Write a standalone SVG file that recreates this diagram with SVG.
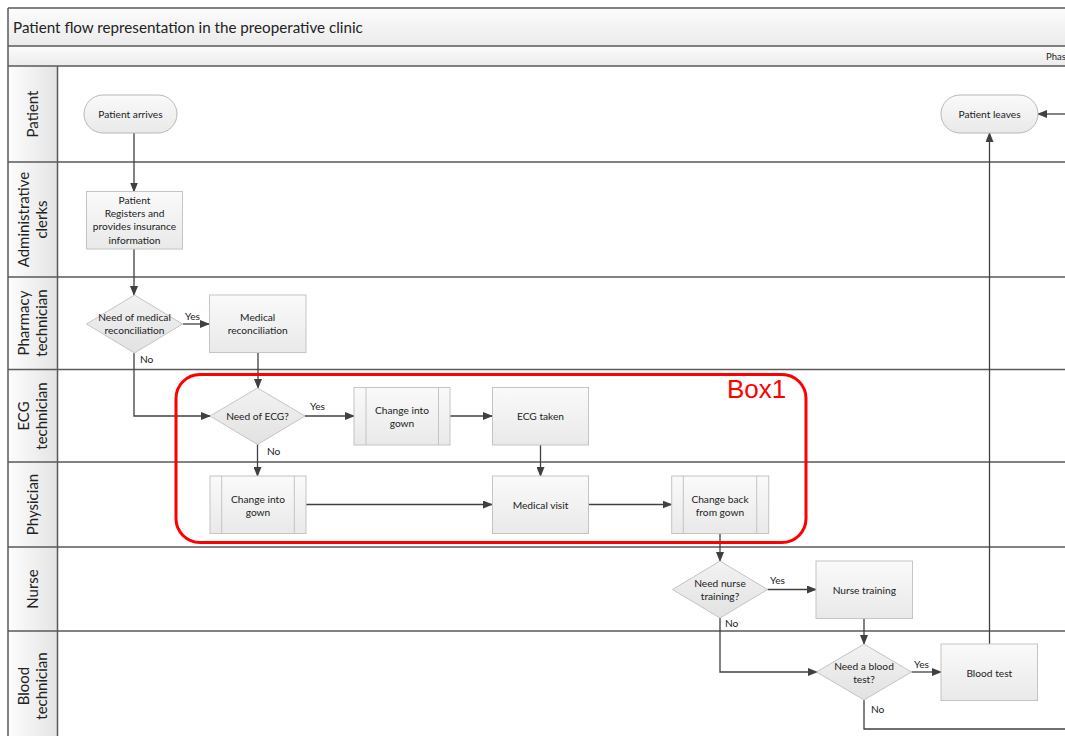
<svg xmlns="http://www.w3.org/2000/svg" width="1065" height="736" viewBox="0 0 1065 736">
<style>
text{font-family:Lato,"Liberation Sans",sans-serif;fill:#222}
.t{font-size:10.2px;text-anchor:middle}
.lbl{font-size:10.2px}
.lane{font-size:15px;text-anchor:middle}
.box{fill:url(#gBox);stroke:#c4c4c4;stroke-width:1}
.dia{fill:url(#gDia);stroke:#c4c4c4;stroke-width:1}
.pill{fill:url(#gBox);stroke:#b8b8b8;stroke-width:1}
.inner{stroke:#c4c4c4;stroke-width:1}
.sep{stroke:#5a5a5a;stroke-width:1.5;fill:none}
.con{stroke:#404040;stroke-width:1.3;fill:none}
.arr{marker-end:url(#ah)}
</style>
<defs>
<linearGradient id="gBox" x1="0" y1="0" x2="0" y2="1"><stop offset="0" stop-color="#fafafa"/><stop offset="1" stop-color="#e9e9e9"/></linearGradient>
<linearGradient id="gDia" x1="0" y1="0" x2="0" y2="1"><stop offset="0" stop-color="#f2f2f2"/><stop offset="1" stop-color="#e2e2e2"/></linearGradient>
<linearGradient id="gBar" x1="0" y1="0" x2="0" y2="1"><stop offset="0" stop-color="#fcfcfc"/><stop offset="1" stop-color="#ebebeb"/></linearGradient>
<linearGradient id="gHead" x1="0" y1="0" x2="1" y2="0"><stop offset="0" stop-color="#fdfdfd"/><stop offset="1" stop-color="#e4e4e4"/></linearGradient>
<marker id="ah" markerUnits="userSpaceOnUse" markerWidth="10" markerHeight="8" refX="9" refY="4" orient="auto"><path d="M0,0 L10,4 L0,8 z" fill="#404040"/></marker>
</defs>

<g id="frame">
<rect x="0" y="0" width="1065" height="736" fill="#ffffff"/>
<rect x="8" y="8" width="1060" height="38" fill="url(#gBar)"/>
<rect x="8" y="46" width="1060" height="20" fill="url(#gBar)"/>
<rect x="8" y="66" width="49.5" height="680" fill="url(#gHead)"/>
<path class="sep" d="M8,8 H1065 M8,8 V736 M8,46 H1065 M8,66 H1065 M57.5,66 V736 M8,162 H1065 M8,277 H1065 M8,369.5 H1065 M8,462 H1065 M8,547 H1065 M8,631 H1065"/>
<text x="13" y="33" style="font-size:15.2px">Patient flow representation in the preoperative clinic</text>
<text x="1046" y="60" style="font-size:9.5px">Phas</text>
</g>

<g id="lanes">
<text class="lane" transform="translate(38,114) rotate(-90)">Patient</text>
<text class="lane" transform="translate(0,219.5) rotate(-90)"><tspan x="0" y="28.5">Administrative</tspan><tspan x="0" y="47">clerks</tspan></text>
<text class="lane" transform="translate(0,323) rotate(-90)"><tspan x="0" y="28.5">Pharmacy</tspan><tspan x="0" y="47">technician</tspan></text>
<text class="lane" transform="translate(0,416) rotate(-90)"><tspan x="0" y="28.5">ECG</tspan><tspan x="0" y="47">technician</tspan></text>
<text class="lane" transform="translate(38,504.5) rotate(-90)">Physician</text>
<text class="lane" transform="translate(38,589) rotate(-90)">Nurse</text>
<text class="lane" transform="translate(0,686) rotate(-90)"><tspan x="0" y="28.5">Blood</tspan><tspan x="0" y="47">technician</tspan></text>
</g>

<g id="connectors">
<path class="con arr" d="M134,133 V191.5"/>
<path class="con arr" d="M134,249 V295"/>
<path class="con arr" d="M183,324 H209"/>
<path class="con arr" d="M134,353 V416 H210"/>
<path class="con arr" d="M258,353 V388"/>
<path class="con arr" d="M305,416 H354"/>
<path class="con arr" d="M450,416 H492"/>
<path class="con arr" d="M540.5,445 V476"/>
<path class="con arr" d="M257.5,444 V476"/>
<path class="con arr" d="M306,504.5 H492"/>
<path class="con arr" d="M588.5,504.5 H671.5"/>
<path class="con arr" d="M720,533.5 V561"/>
<path class="con arr" d="M767.5,589.5 H816"/>
<path class="con arr" d="M720,618 V672 H817"/>
<path class="con arr" d="M864,618.5 V644"/>
<path class="con arr" d="M911.5,672 H941"/>
<path class="con arr" d="M989.5,644 V133"/>
<path class="con arr" d="M1065,114 H1038"/>
<path class="con" d="M864,700 V729 H1065"/>
<text class="lbl" x="185" y="320">Yes</text>
<text class="lbl" x="140" y="363">No</text>
<text class="lbl" x="310" y="410">Yes</text>
<text class="lbl" x="267" y="455">No</text>
<text class="lbl" x="770" y="584">Yes</text>
<text class="lbl" x="725" y="627">No</text>
<text class="lbl" x="914" y="668">Yes</text>
<text class="lbl" x="871" y="713">No</text>
</g>

<g id="patient-arrives">
<rect class="pill" x="84" y="95" width="93" height="38" rx="19"/>
<text class="t" x="130.5" y="117.5">Patient arrives</text>
</g>
<g id="patient-leaves">
<rect class="pill" x="941" y="95" width="97" height="38" rx="19"/>
<text class="t" x="989.5" y="117.5">Patient leaves</text>
</g>
<g id="register">
<rect class="box" x="86.5" y="191.5" width="96" height="57.5"/>
<text class="t" x="134.5" y="204">Patient</text>
<text class="t" x="134.5" y="217">Registers and</text>
<text class="t" x="134.5" y="230">provides insurance</text>
<text class="t" x="134.5" y="243.5">information</text>
</g>
<g id="need-med-rec">
<polygon class="dia" points="134.5,295 182.5,324 134.5,353 86.5,324"/>
<text class="t" x="134.5" y="321">Need of medical</text>
<text class="t" x="134.5" y="334">reconciliation</text>
</g>
<g id="med-rec">
<rect class="box" x="209.5" y="295" width="96.5" height="57.5"/>
<text class="t" x="257.7" y="321">Medical</text>
<text class="t" x="257.7" y="334">reconciliation</text>
</g>
<g id="need-ecg">
<polygon class="dia" points="257.5,388 305,416 257.5,444.5 210,416"/>
<text class="t" x="257.5" y="420">Need of ECG?</text>
</g>
<g id="gown-ecg">
<rect class="box" x="354" y="387.5" width="96" height="57.5"/>
<path class="inner" d="M366,387.5 V445 M438.5,387.5 V445"/>
<text class="t" x="402" y="414">Change into</text>
<text class="t" x="402" y="427">gown</text>
</g>
<g id="ecg-taken">
<rect class="box" x="492.5" y="387.5" width="96" height="57.5"/>
<text class="t" x="540.5" y="420">ECG taken</text>
</g>
<g id="gown-phys">
<rect class="box" x="210" y="476" width="96" height="57.5"/>
<path class="inner" d="M221.7,476 V533.5 M294.3,476 V533.5"/>
<text class="t" x="258" y="502.5">Change into</text>
<text class="t" x="258" y="515.5">gown</text>
</g>
<g id="medical-visit">
<rect class="box" x="492.5" y="476" width="96" height="57.5"/>
<text class="t" x="540.5" y="508.5">Medical visit</text>
</g>
<g id="gown-back">
<rect class="box" x="671.7" y="476" width="97" height="57.5"/>
<path class="inner" d="M683.3,476 V533.5 M756.7,476 V533.5"/>
<text class="t" x="720" y="502.5">Change back</text>
<text class="t" x="720" y="515.5">from gown</text>
</g>
<g id="need-nurse">
<polygon class="dia" points="720,561 767.5,589.5 720,618 672.5,589.5"/>
<text class="t" x="720" y="587">Need nurse</text>
<text class="t" x="720" y="600">training?</text>
</g>
<g id="nurse-training">
<rect class="box" x="816" y="561" width="96.5" height="57.5"/>
<text class="t" x="864.3" y="593.5">Nurse training</text>
</g>
<g id="need-blood">
<polygon class="dia" points="864,644 911.5,672 864,700 816.5,672"/>
<text class="t" x="864" y="669.5">Need a blood</text>
<text class="t" x="864" y="682.5">test?</text>
</g>
<g id="blood-test">
<rect class="box" x="941" y="644" width="96.5" height="56.5"/>
<text class="t" x="989.3" y="676.5">Blood test</text>
</g>
<g id="box1">
<rect x="176" y="374.5" width="630" height="168" rx="24" fill="none" stroke="#ff0000" stroke-width="3"/>
<text x="727" y="398" style="font-family:'Liberation Sans',Arial,sans-serif;font-size:26px;fill:#ff0000">Box1</text>
</g>
</svg>
